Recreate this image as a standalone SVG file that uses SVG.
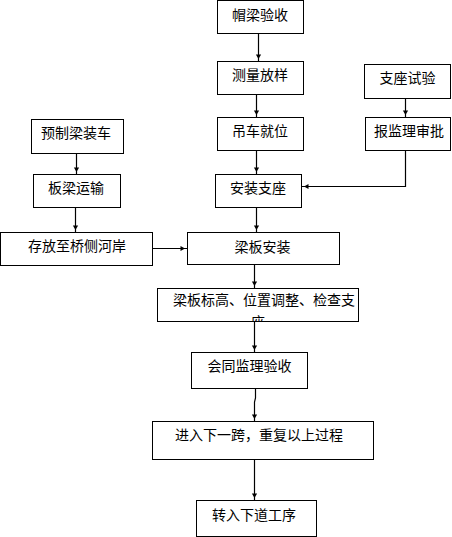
<svg xmlns="http://www.w3.org/2000/svg" width="452" height="537" viewBox="0 0 452 537">
<style>
.box{fill:#fff;stroke:#000;stroke-width:1}
.t{font-family:"Noto Sans CJK SC","Noto Sans CJK JP",sans-serif;font-size:14px;fill:#000;text-anchor:middle}
.c{fill:none;stroke:#000;stroke-width:1.2;marker-end:url(#ah)}
</style>
<defs>
<marker id="ah" markerUnits="userSpaceOnUse" markerWidth="12" markerHeight="12" refX="7" refY="0" viewBox="-2 -6 12 12" orient="auto" overflow="visible">
<path d="M0,-2.6 L4.5,0 L0,2.6 z" fill="#000"/>
</marker>
<clipPath id="clip1"><rect x="158" y="289" width="200" height="32"/></clipPath>
</defs>
<rect width="452" height="537" fill="#fff"/>
<g id="connectors">
<path class="c" d="M258.5,33.5 V61.5"/>
<path class="c" d="M256.5,94.5 V117.5"/>
<path class="c" d="M256.5,150.5 V174.5"/>
<path class="c" d="M405.5,98.5 V117.5"/>
<path class="c" d="M405.5,150.5 V186.5 H301.5"/>
<path class="c" d="M76.5,153.5 V174.5"/>
<path class="c" d="M75.5,207.5 V232.5"/>
<path class="c" d="M256.5,207.5 V232.5"/>
<path class="c" d="M152.5,248.5 H187.5"/>
<path class="c" d="M254.5,264.5 V288.5"/>
<path class="c" d="M254.5,321.5 V352.5"/>
<path class="c" d="M255.5,388.5 V398 L254.5,402 V421.5"/>
<path class="c" d="M254.5,459.5 V500.5"/>
</g>
<g id="n1"><rect class="box" x="217.5" y="0.5" width="86" height="33"/><text class="t" x="260" y="20">帽梁验收</text></g>
<g id="n2"><rect class="box" x="217.5" y="61.5" width="86" height="33"/><text class="t" x="260" y="80">测量放样</text></g>
<g id="n3"><rect class="box" x="217.5" y="117.5" width="86" height="33"/><text class="t" x="260" y="136">吊车就位</text></g>
<g id="n4"><rect class="box" x="215.5" y="174.5" width="86" height="33"/><text class="t" x="258" y="193">安装支座</text></g>
<g id="n5"><rect class="box" x="364.5" y="64.5" width="86" height="34"/><text class="t" x="407.5" y="83">支座试验</text></g>
<g id="n6"><rect class="box" x="365.5" y="117.5" width="85" height="33"/><text class="t" x="409" y="136">报监理审批</text></g>
<g id="n7"><rect class="box" x="31.5" y="119.5" width="92" height="34"/><text class="t" x="76" y="138">预制梁装车</text></g>
<g id="n8"><rect class="box" x="33.5" y="174.5" width="87" height="33"/><text class="t" x="76" y="193">板梁运输</text></g>
<g id="n9"><rect class="box" x="0.5" y="232.5" width="152" height="33"/><text class="t" x="77" y="251">存放至桥侧河岸</text></g>
<g id="n10"><rect class="box" x="187.5" y="232.5" width="152" height="32"/><text class="t" x="262.5" y="252">梁板安装</text></g>
<g id="n11"><rect class="box" x="157.5" y="288.5" width="201" height="33"/><g clip-path="url(#clip1)"><text class="t" x="264" y="305">梁板标高、位置调整、检查支</text><text class="t" x="258" y="327">座</text></g></g>
<g id="n12"><rect class="box" x="191.5" y="352.5" width="116" height="36"/><text class="t" x="249.5" y="371">会同监理验收</text></g>
<g id="n13"><rect class="box" x="152.5" y="421.5" width="221" height="38"/><text class="t" x="259" y="440">进入下一跨，重复以上过程</text></g>
<g id="n14"><rect class="box" x="196.5" y="500.5" width="120" height="36"/><text class="t" x="254" y="520">转入下道工序</text></g>
</svg>
